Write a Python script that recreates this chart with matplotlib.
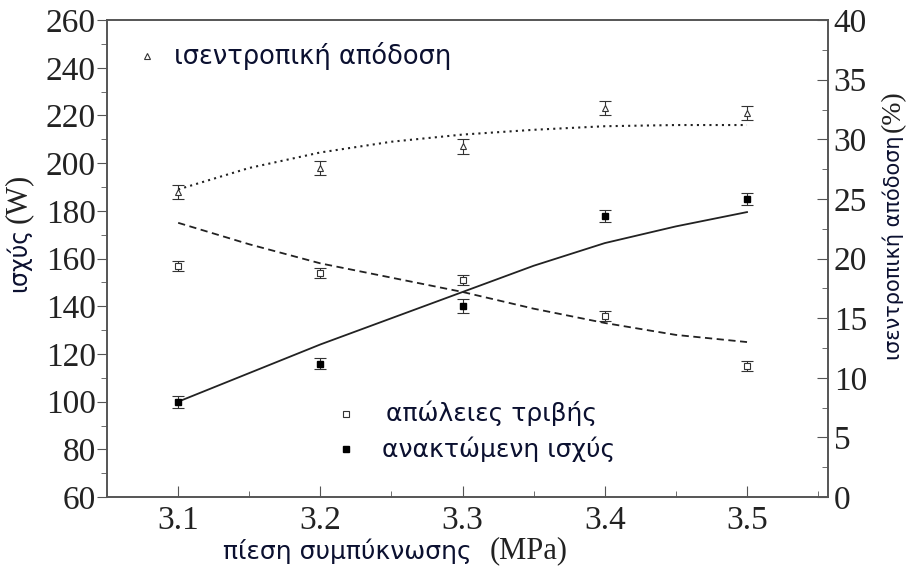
import matplotlib
matplotlib.use("Agg")
import matplotlib.pyplot as plt
from matplotlib.ticker import MultipleLocator

# measured points
pressure = [3.1, 3.2, 3.3, 3.4, 3.5]
recovered_power = [100, 116, 140, 178, 185]      # W
friction_loss = [157, 154, 151, 136, 115]        # W
efficiency = [25.6, 27.6, 29.4, 32.6, 32.2]      # %
err_power = [2.5, 2.5, 3, 2.5, 2.5]
err_friction = [2, 2, 2, 2, 2]
err_eff = [0.6, 0.6, 0.6, 0.6, 0.6]

# fitted curves
fit_x = [3.1, 3.15, 3.2, 3.25, 3.3, 3.35, 3.4, 3.45, 3.5]
fit_power = [100, 112, 124, 135, 146, 157, 166.5, 173.5, 179.5]
fit_friction = [175, 166, 158, 152, 146, 139, 133, 128, 125]
fit_eff = [25.8, 27.6, 28.9, 29.8, 30.4, 30.8, 31.1, 31.2, 31.2]

serif = "Liberation Serif"
sans = "DejaVu Sans"
navy = "#0b1030"
spine_c = "#555555"

fig = plt.figure(figsize=(9.15, 5.74), dpi=100)
ax = fig.add_axes([0.117, 0.134, 0.788, 0.831])
ax2 = ax.twinx()

ax.set_xlim(3.05, 3.557)
ax.set_ylim(60, 260)
ax2.set_ylim(0, 40)

ek = dict(capsize=4, elinewidth=0.8, capthick=0.8, ecolor="#333333", ls="none", ms=5)
ax.errorbar(pressure, recovered_power, yerr=err_power, marker="s", mfc="black", mec="black", **ek)
ax.errorbar(pressure, friction_loss, yerr=err_friction, marker="s", mfc="white", mec="#333333", mew=0.8, **ek)
ax2.errorbar(pressure, efficiency, yerr=err_eff, marker="^", mfc="white", mec="#333333", mew=0.8, **ek)

ax.plot(fit_x, fit_power, "-", color="#222222", lw=1.3)
ax.plot(fit_x, fit_friction, color="#222222", lw=1.3, ls=(0, (4, 2.5)))
ax2.plot(fit_x, fit_eff, color="#222222", lw=1.5, ls=(0, (1, 2)))

ax.set_xticks(pressure)
ax.xaxis.set_minor_locator(MultipleLocator(0.05))
ax.yaxis.set_major_locator(MultipleLocator(20))
ax.yaxis.set_minor_locator(MultipleLocator(10))
ax2.yaxis.set_major_locator(MultipleLocator(5))
ax2.yaxis.set_minor_locator(MultipleLocator(2.5))

ax.tick_params(axis="x", which="both", direction="in", top=False, labelsize=24, pad=6, color=spine_c)
ax.tick_params(axis="x", which="major", length=8)
ax.tick_params(axis="x", which="minor", length=4)
ax.tick_params(axis="y", which="both", direction="out", right=False, labelsize=24, pad=1, color=spine_c)
ax.tick_params(axis="y", which="major", length=7)
ax.tick_params(axis="y", which="minor", length=4)
ax2.tick_params(axis="y", which="both", direction="in", labelsize=24, pad=4, color=spine_c)
ax2.tick_params(axis="y", which="major", length=8)
ax2.tick_params(axis="y", which="minor", length=4)
for a in (ax, ax2):
    for lab in a.get_xticklabels() + a.get_yticklabels():
        lab.set_family(serif)
        lab.set_color("#222222")
    for s in a.spines.values():
        s.set_color(spine_c)
        s.set_linewidth(1.2)

# axis titles: greek in sans, units in serif, units chained after the greek part
t = fig.text(0.020, 0.548, "ισχύς", rotation=90, family=sans, fontsize=17, color=navy, ha="center", va="center")
fig.texts.append(plt.Annotation("(W)", xy=(0.5, 1), xycoords=t, xytext=(0, 3), textcoords="offset points",
                                rotation=90, family=serif, fontsize=22, color="#222222", ha="center", va="bottom"))
t = fig.text(0.976, 0.568, "ισεντροπική απόδοση", rotation=90, family=sans, fontsize=15, color=navy, ha="center", va="center")
fig.texts.append(plt.Annotation("(%)", xy=(0.5, 1), xycoords=t, xytext=(0, 3), textcoords="offset points",
                                rotation=90, family=serif, fontsize=20, color="#222222", ha="center", va="bottom"))
t = fig.text(0.38, 0.040, "πίεση συμπύκνωσης", family=sans, fontsize=18, color=navy, ha="center", va="center")
fig.texts.append(plt.Annotation("(MPa)", xy=(1, 0.5), xycoords=t, xytext=(13, 0), textcoords="offset points",
                                family=serif, fontsize=22, color="#222222", ha="left", va="center"))
for a in fig.texts:
    a.set_figure(fig)

# hand placed legend entries
ax.plot([3.078], [245], marker="^", ms=4, mfc="white", mec="#333333", mew=0.8, ls="none")
ax.text(3.097, 245, "ισεντροπική απόδοση", family=sans, fontsize=18.5, color=navy, va="center")
ax.plot([3.218], [95], marker="s", ms=4, mfc="white", mec="#333333", mew=0.8, ls="none")
ax.text(3.246, 95, "απώλειες τριβής", family=sans, fontsize=18, color=navy, va="center")
ax.plot([3.218], [80], marker="s", ms=4, mfc="black", mec="black", ls="none")
ax.text(3.243, 80, "ανακτώμενη ισχύς", family=sans, fontsize=18, color=navy, va="center")

fig.savefig("out.png", dpi=100)
